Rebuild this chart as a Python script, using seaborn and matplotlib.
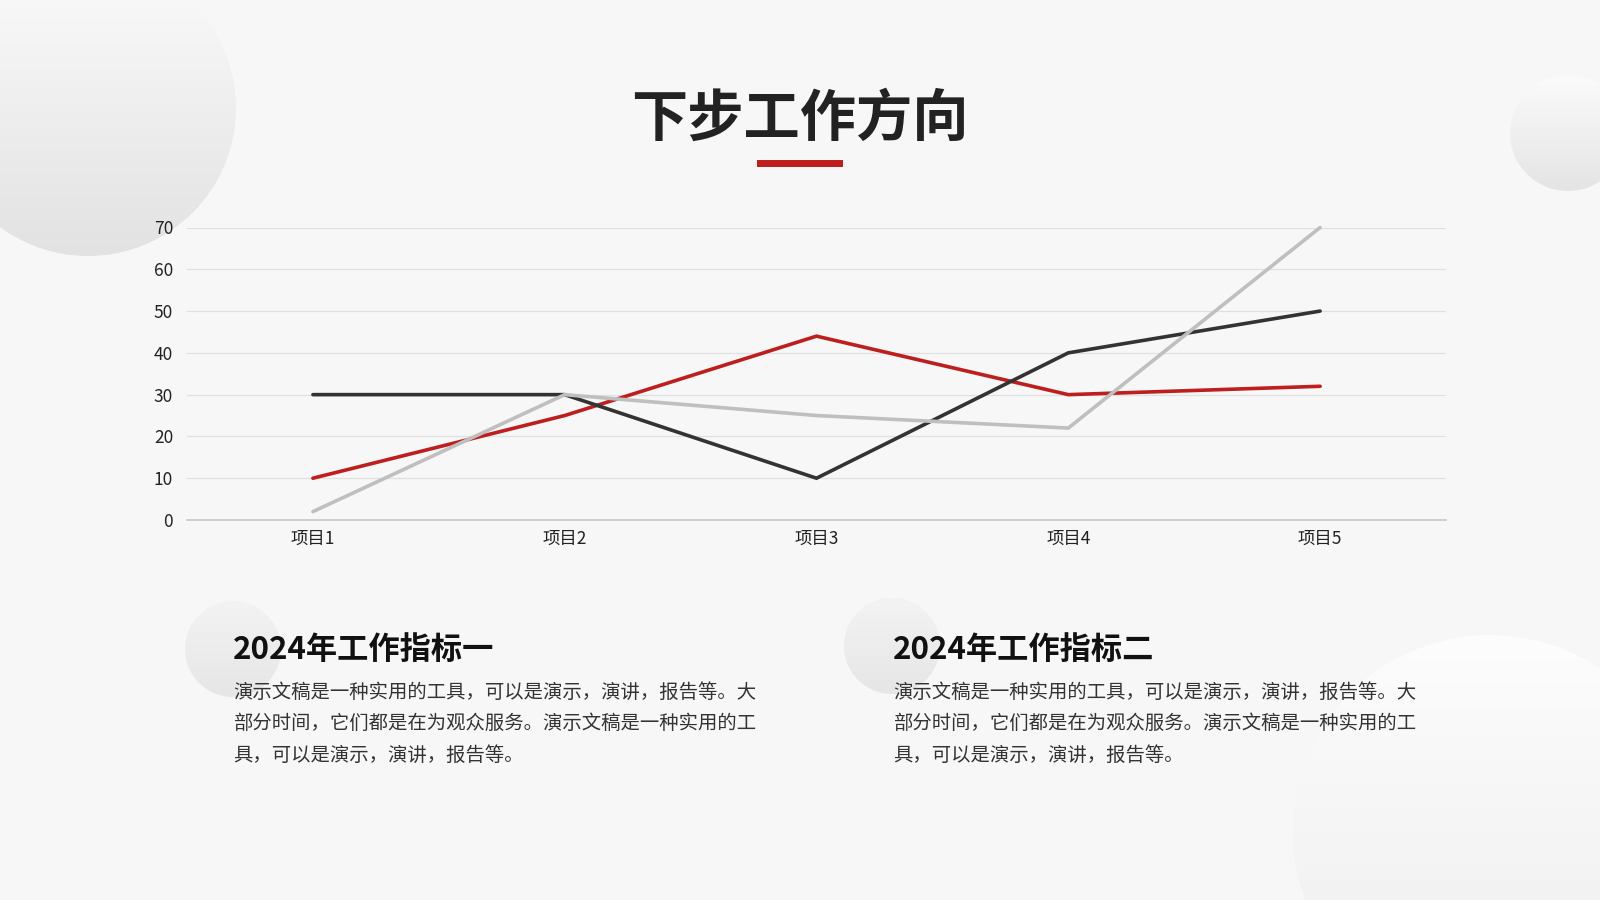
import matplotlib
matplotlib.use("Agg")
import matplotlib.pyplot as plt
from matplotlib.patches import Circle, Rectangle
import seaborn as sns
import pandas as pd
import numpy as np

# data
categories = ["项目1", "项目2", "项目3", "项目4", "项目5"]
series_names = ["系列1", "系列2", "系列3"]
series_1 = [10, 25, 44, 30, 32]
series_2 = [30, 30, 10, 40, 50]
series_3 = [2, 30, 25, 22, 70]
y_ticks = [0, 10, 20, 30, 40, 50, 60, 70]

title = "下步工作方向"
headings = ["2024年工作指标一", "2024年工作指标二"]
body_lines = [
    "演示文稿是一种实用的工具，可以是演示，演讲，报告等。大",
    "部分时间，它们都是在为观众服务。演示文稿是一种实用的工",
    "具，可以是演示，演讲，报告等。",
]

df = pd.DataFrame({
    "项目": categories * 3,
    "值": series_1 + series_2 + series_3,
    "系列": [n for n in series_names for _ in categories],
})

sns.set_theme(style="white")
plt.rcParams["font.family"] = ["Noto Sans CJK SC", "DejaVu Sans"]

BG = "#F7F7F7"
palette = {"系列1": "#BE1E1E", "系列2": "#333333", "系列3": "#BFBFBF"}

fig = plt.figure(figsize=(16, 9), dpi=100, facecolor=BG)

# background layer in pixel coordinates
bg = fig.add_axes([0, 0, 1, 1], zorder=0)
bg.set_xlim(0, 1600)
bg.set_ylim(900, 0)
bg.axis("off")
bg.set_facecolor(BG)


def soft_circle(cx, cy, r, top="#FAFAFA", bottom="#E3E3E3"):
    grad = np.linspace(0, 1, 256).reshape(-1, 1)
    cmap = matplotlib.colors.LinearSegmentedColormap.from_list("g", [top, bottom])
    im = bg.imshow(grad, cmap=cmap, extent=(cx - r, cx + r, cy + r, cy - r),
                   aspect="auto", interpolation="bilinear")
    clip = Circle((cx, cy), r, transform=bg.transData, facecolor="none", edgecolor="none")
    bg.add_patch(clip)
    im.set_clip_path(clip)


soft_circle(88, 108, 148, "#FBFBFB", "#E2E2E2")
soft_circle(1568, 133, 58, "#FBFBFB", "#E4E4E4")
soft_circle(1490, 832, 197, "#FDFDFD", "#EDEDED")
soft_circle(233, 649, 48, "#F3F3F3", "#E6E6E6")
soft_circle(892, 646, 48, "#F3F3F3", "#E6E6E6")
bg.set_xlim(0, 1600)
bg.set_ylim(900, 0)

# title and underline
bg.text(800, 119, title, ha="center", va="center", fontsize=40.5,
        fontweight="bold", color="#222222")
bg.add_patch(Rectangle((757, 160), 86, 7, color="#BE1E1E", lw=0))

# text blocks
for x0, head in zip([233, 893], headings):
    bg.text(x0, 650, head, ha="left", va="center", fontsize=22.5,
            fontweight="bold", color="#111111")
    for i, line in enumerate(body_lines):
        bg.text(x0, 692 + i * 31.5, line, ha="left", va="center",
                fontsize=13.95, color="#333333")

# line chart
ax = fig.add_axes([187 / 1600, 1 - 520 / 900, (1446 - 187) / 1600, (520 - 227.5) / 900],
                  zorder=2)
ax.patch.set_alpha(0)
sns.lineplot(data=df, x="项目", y="值", hue="系列", palette=palette,
             linewidth=2.6, legend=False, sort=False, ax=ax, clip_on=False)
for ln in ax.lines:
    ln.set_solid_capstyle("round")
    ln.set_solid_joinstyle("miter")

ax.set_xlim(-0.5, len(categories) - 0.5)
ax.set_ylim(0, 70)
ax.set_yticks(y_ticks)
ax.set_xlabel("")
ax.set_ylabel("")
ax.grid(axis="y", color="#E0E0E0", linewidth=0.9)
ax.grid(axis="x", visible=False)
ax.set_axisbelow(True)
for side in ["top", "right", "left"]:
    ax.spines[side].set_visible(False)
ax.spines["bottom"].set_color("#C8C8C8")
ax.spines["bottom"].set_linewidth(1.2)
ax.tick_params(axis="y", length=0, pad=10, labelsize=12.5, labelcolor="#222222")
ax.tick_params(axis="x", length=0, pad=7, labelsize=12.5, labelcolor="#222222")

fig.savefig("out.png", dpi=100, facecolor=BG)
